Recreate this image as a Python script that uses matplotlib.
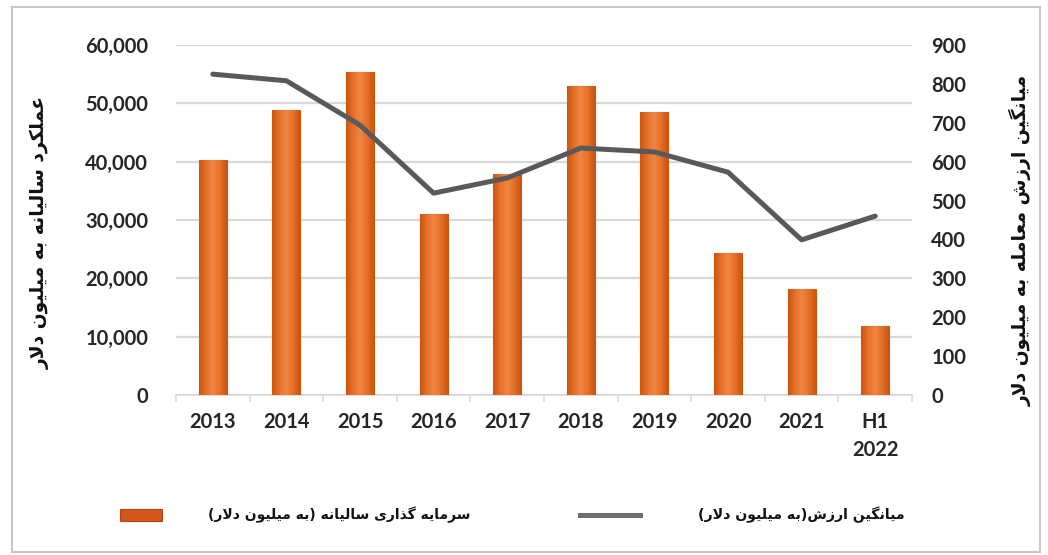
import matplotlib
matplotlib.use("Agg")
import matplotlib.pyplot as plt
from matplotlib.patches import Rectangle
from matplotlib.lines import Line2D
from matplotlib.colors import LinearSegmentedColormap
import numpy as np

# ---------------- data ----------------
categories = ["2013", "2014", "2015", "2016", "2017", "2018", "2019", "2020", "2021", "H1\n2022"]
annual_investment = [40300, 48900, 55400, 31000, 37900, 53000, 48500, 24300, 18200, 11800]
avg_deal_value = [825, 808, 694, 519, 558, 635, 625, 573, 399, 460]
left_ticks = [0, 10000, 20000, 30000, 40000, 50000, 60000]
right_ticks = [0, 100, 200, 300, 400, 500, 600, 700, 800, 900]

left_label = "عملکرد سالیانه به میلیون دلار"
right_label = "میانگین ارزش معامله به میلیون دلار"
legend_bar = "سرمایه گذاری سالیانه (به میلیون دلار)"
legend_line = "میانگین ارزش(به میلیون دلار)"

# ------------- simple Persian shaping (presentation forms) -------------
FORMS = {
    'ا': ('\uFE8D', '\uFE8E', None, None),
    'ب': ('\uFE8F', '\uFE90', '\uFE91', '\uFE92'),
    'د': ('\uFEA9', '\uFEAA', None, None),
    'ذ': ('\uFEAB', '\uFEAC', None, None),
    'ر': ('\uFEAD', '\uFEAE', None, None),
    'ز': ('\uFEAF', '\uFEB0', None, None),
    'س': ('\uFEB1', '\uFEB2', '\uFEB3', '\uFEB4'),
    'ش': ('\uFEB5', '\uFEB6', '\uFEB7', '\uFEB8'),
    'ع': ('\uFEC9', '\uFECA', '\uFECB', '\uFECC'),
    'ل': ('\uFEDD', '\uFEDE', '\uFEDF', '\uFEE0'),
    'م': ('\uFEE1', '\uFEE2', '\uFEE3', '\uFEE4'),
    'ن': ('\uFEE5', '\uFEE6', '\uFEE7', '\uFEE8'),
    'ه': ('\uFEE9', '\uFEEA', '\uFEEB', '\uFEEC'),
    'و': ('\uFEED', '\uFEEE', None, None),
    'ک': ('\uFB8E', '\uFB8F', '\uFB90', '\uFB91'),
    'گ': ('\uFB92', '\uFB93', '\uFB94', '\uFB95'),
    'ی': ('\uFBFC', '\uFBFD', '\uFBFE', '\uFBFF'),
}


def dual(c):
    return c in FORMS and FORMS[c][2] is not None


def shape(s):
    out = []
    n = len(s)
    i = 0
    while i < n:
        c = s[i]
        if c not in FORMS:
            out.append(c)
            i += 1
            continue
        prev_j = i > 0 and dual(s[i - 1])
        if c == 'ل' and i + 1 < n and s[i + 1] == 'ا':
            out.append('\uFEFC' if prev_j else '\uFEFB')
            i += 2
            continue
        next_j = dual(c) and i + 1 < n and s[i + 1] in FORMS
        iso, fin, ini, med = FORMS[c]
        if prev_j and next_j:
            g = med
        elif prev_j:
            g = fin
        elif next_j:
            g = ini
        else:
            g = iso
        out.append(g)
        i += 1
    vis = ''.join(reversed(out))
    return vis.translate(str.maketrans({'(': ')', ')': '('}))


# ---------------- figure ----------------
W, H = 1048, 555
fig = plt.figure(figsize=(W / 100, H / 100), dpi=100)
fig.patch.set_facecolor("white")

ax_l, ax_r, ax_b, ax_t = 176, 912, 395, 45
ax = fig.add_axes([ax_l / W, 1 - ax_b / H, (ax_r - ax_l) / W, (ax_b - ax_t) / H])
ax2 = ax.twinx()

x = np.arange(len(categories))
bars = ax.bar(x, annual_investment, width=0.38, color="#E8772E", edgecolor="#C9560F",
              linewidth=0.8, zorder=3)
# horizontal gradient fill inside each bar
grad_cmap = LinearSegmentedColormap.from_list(
    "bar", ["#CC5510", "#E5702A", "#EF8744", "#E5702A", "#CC5510"])
grad = np.linspace(0, 1, 64).reshape(1, -1)
for b in bars:
    bx, by = b.get_x(), b.get_y()
    im = ax.imshow(grad, cmap=grad_cmap, aspect="auto", interpolation="bicubic",
                   extent=(bx, bx + b.get_width(), by, by + b.get_height()), zorder=3.5)
    im.set_clip_path(b)

ax2.plot(x, avg_deal_value, color="#595959", linewidth=3.6, solid_capstyle="round", zorder=4)

ax.set_xlim(-0.5, len(categories) - 0.5)
ax.set_ylim(0, 60000)
ax2.set_ylim(0, 900)
ax.set_yticks(left_ticks)
ax.set_yticklabels([f"{v:,}" for v in left_ticks])
ax2.set_yticks(right_ticks)
ax2.set_yticklabels([str(v) for v in right_ticks])
ax.set_xticks(x)
ax.set_xticklabels(categories)
ax.set_xticks(np.arange(len(categories) + 1) - 0.5, minor=True)

ax.yaxis.grid(True, color="#D9D9D9", linewidth=1.6, zorder=0)
ax.set_axisbelow(True)
for a in (ax, ax2):
    for s in ("top", "left", "right"):
        a.spines[s].set_visible(False)
    a.spines["bottom"].set_color("#D9D9D9")
    a.spines["bottom"].set_linewidth(1.2)
ax2.spines["bottom"].set_visible(False)

for lab in ax.get_yticklabels() + ax2.get_yticklabels() + ax.get_xticklabels():
    lab.set_fontfamily("Lato")
    lab.set_fontweight("bold")
    lab.set_fontsize(14.5)
    lab.set_color("#262626")
for lab in ax.get_xticklabels():
    lab.set_linespacing(1.5)

ax.tick_params(axis="y", length=0, pad=20)
ax2.tick_params(axis="y", length=0, pad=14)
ax.tick_params(axis="x", which="major", length=0, pad=12)
ax.tick_params(axis="x", which="minor", length=5, color="#D9D9D9", width=1.2)

# axis titles
fig.text(40 / W, 1 - 232 / H, shape(left_label), rotation=90, ha="center", va="center",
         family="DejaVu Sans", weight="bold", fontsize=13.5, color="#111111")
fig.text(1021 / W, 1 - 240 / H, shape(right_label), rotation=90, ha="center", va="center",
         family="DejaVu Sans", weight="bold", fontsize=13.5, color="#111111")

# legend (manual, figure coordinates)
ly = 1 - 515 / H
fig.patches.append(Rectangle((120 / W, ly - 6 / H), 42 / W, 12 / H, transform=fig.transFigure,
                             facecolor="#D2561A", edgecolor="#B8440F", linewidth=0.8))
fig.text(470 / W, ly, shape(legend_bar), ha="right", va="center",
         family="DejaVu Sans", weight="bold", fontsize=10, color="#111111")
fig.lines.append(Line2D([580 / W, 640 / W], [ly, ly], transform=fig.transFigure,
                        color="#6E6E6E", linewidth=3.6))
fig.text(905 / W, ly, shape(legend_line), ha="right", va="center",
         family="DejaVu Sans", weight="bold", fontsize=10.2, color="#111111")

# outer frame
fig.patches.append(Rectangle((12 / W, 3 / H), (1040 - 12) / W, (548 - 3) / H,
                             transform=fig.transFigure, fill=False,
                             edgecolor="#C8C8C8", linewidth=1.5))

fig.savefig("out.png", dpi=100, facecolor="white")
